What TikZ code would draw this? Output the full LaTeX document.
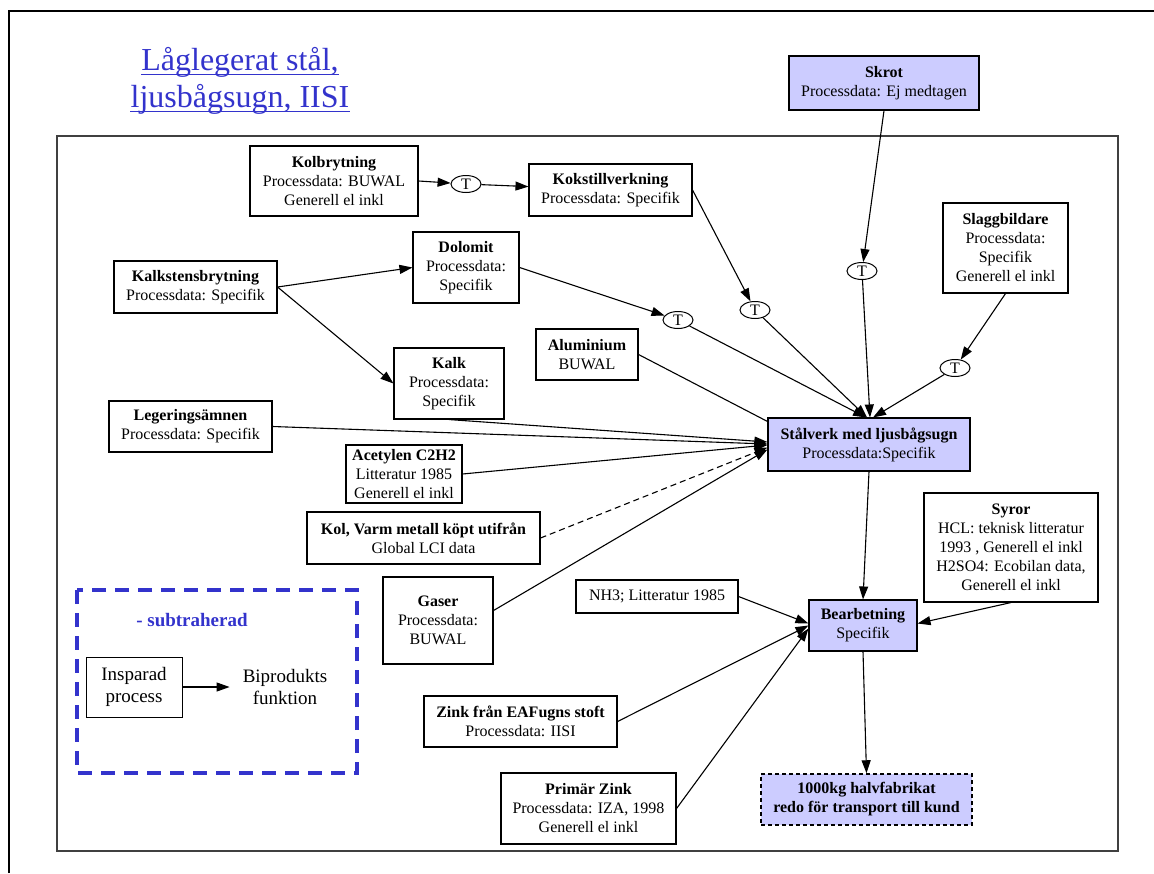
\documentclass[tikz,border=0pt]{standalone}
\usepackage{fontspec}
\setmainfont{Liberation Serif}
\usetikzlibrary{arrows.meta,shapes.geometric}
\definecolor{lav}{HTML}{CCCCFF}
\definecolor{legblue}{HTML}{3333CC}

\begin{document}
\begin{tikzpicture}[x=1pt,y=-1pt,
  box/.style={draw=black, line width=1.1pt, fill=white, align=center, inner sep=0pt,
              font=\fontsize{16}{19}\selectfont},
  hi/.style={box, fill=lav},
  tnode/.style={ellipse, draw=black, line width=1pt, fill=white, minimum width=30pt,
                minimum height=17pt, inner sep=0pt, font=\fontsize{16}{19}\selectfont},
  flow/.style={line width=1.1pt, -{Triangle[length=13pt,width=9pt]}},
  bare/.style={line width=1.1pt},
]
\useasboundingbox (0,0) rectangle (1154,873);

% page frame and process-system frame
\draw[line width=2.5pt] (9,873) -- (9,11) -- (1154,11);
\draw[line width=1.6pt, draw=black!75] (57,136) rectangle (1118,851);

% title
\node[anchor=base, inner sep=0pt, text=legblue, font=\fontsize{32}{37}\selectfont] (title1) at (240,70) {Låglegerat stål,};
\node[anchor=base, inner sep=0pt, text=legblue, font=\fontsize{32}{37}\selectfont] (title2) at (240,107) {ljusbågsugn, IISI};
\draw[legblue, line width=1.6pt] ([yshift=-4.5pt]title1.base west) -- ([yshift=-4.5pt]title1.base east);
\draw[legblue, line width=1.6pt] ([yshift=-4.5pt]title2.base west) -- ([yshift=-4.5pt]title2.base east);

% process boxes
\node[hi, minimum width=190, minimum height=54] (skrot) at (884,83) {\textbf{Skrot}\\Processdata: Ej medtagen};
\node[box, minimum width=168, minimum height=70] (kolb) at (334,181) {\textbf{Kolbrytning}\\Processdata: BUWAL\\Generell el inkl};
\node[box, minimum width=163, minimum height=52] (koks) at (610.5,190) {\textbf{Kokstillverkning}\\Processdata: Specifik};
\node[box, minimum width=125, minimum height=90] (slagg) at (1005.5,248) {\textbf{Slaggbildare}\\Processdata:\\Specifik\\Generell el inkl};
\node[box, minimum width=163, minimum height=52] (kalkst) at (195.5,287) {\textbf{Kalkstensbrytning}\\Processdata: Specifik};
\node[box, minimum width=106, minimum height=71] (dol) at (466,267.5) {\textbf{Dolomit}\\Processdata:\\Specifik};
\node[box, minimum width=102, minimum height=51] (alu) at (587,354.5) {\textbf{Aluminium}\\BUWAL};
\node[box, minimum width=110, minimum height=71] (kalk) at (449,383.5) {\textbf{Kalk}\\Processdata:\\Specifik};
\node[box, minimum width=163, minimum height=51] (leg) at (190.5,426.5) {\textbf{Legeringsämnen}\\Processdata: Specifik};
\node[box, minimum width=116, minimum height=58] (acet) at (404,474) {\textbf{Acetylen C2H2}\\Litteratur 1985\\Generell el inkl};
\node[hi, minimum width=202, minimum height=53] (stal) at (869,444.5) {\textbf{Stålverk med ljusbågsugn}\\Processdata:Specifik};
\node[box, minimum width=233, minimum height=52] (kol) at (423.5,538) {\textbf{Kol, Varm metall köpt utifrån}\\Global LCI data};
\node[box, minimum width=110, minimum height=87] (gas) at (438,620.5) {\textbf{Gaser}\\Processdata:\\BUWAL};
\node[box, minimum width=162, minimum height=33] (nh3) at (657,596.5) {NH3; Litteratur 1985};
\node[box, minimum width=174, minimum height=109] (syror) at (1011,547.5) {\textbf{Syror}\\HCL: teknisk litteratur\\1993 , Generell el inkl\\H2SO4: Ecobilan data,\\Generell el inkl};
\node[hi, minimum width=108, minimum height=51] (bearb) at (863,625.5) {\textbf{Bearbetning}\\Specifik};
\node[box, minimum width=193, minimum height=51] (zink) at (520.5,721.5) {\textbf{Zink från EAFugns stoft}\\Processdata: IISI};
\node[box, minimum width=175, minimum height=71] (prim) at (588.5,808.5) {\textbf{Primär Zink}\\Processdata: IZA, 1998\\Generell el inkl};
\node[hi, dash pattern=on 4pt off 3pt, line width=1.5pt, minimum width=211, minimum height=51,
      font=\fontsize{16}{19}\selectfont\bfseries] (fin) at (866.5,799.5) {1000kg halvfabrikat\\redo för transport till kund};

% transport steps
\node[tnode] (t1) at (466,184) {T};
\node[tnode] (tk) at (755,310) {T};
\node[tnode] (td) at (678,320) {T};
\node[tnode] (ts) at (862,271) {T};
\node[tnode] (tsl) at (955,368) {T};

% flows
\draw[flow] (kolb.east) -- (t1);
\draw[flow] (t1) -- (koks);
\draw[flow] (koks.east) -- (tk);
\draw[flow] (tk) -- ([xshift=-2pt]stal.north);
\draw[flow] (kalkst.east) -- (dol.west);
\draw[flow] (kalkst.east) -- (kalk.west);
\draw[flow] (dol.east) -- (td);
\draw[flow] (td) -- ([xshift=-3pt]stal.north);
\draw[flow] (skrot.south) -- (ts);
\draw[flow] (ts) -- ([xshift=1pt]stal.north);
\draw[flow] (slagg.south) -- (tsl);
\draw[flow] (tsl) -- ([xshift=4pt]stal.north);
\draw[bare] (alu.east) -- ([yshift=-4pt]stal.north west);
\draw[flow] (kalk.south) -- ([yshift=2.5pt]stal.west);
\draw[flow] (leg.east) -- ([yshift=0.5pt]stal.west);
\draw[flow] (acet.east) -- ([yshift=-0.5pt]stal.west);
\draw[flow, dash pattern=on 6pt off 4pt] (kol.east) -- ([yshift=-3pt]stal.west);
\draw[flow] ([yshift=10pt]gas.east) -- ([yshift=-5pt]stal.west);
\draw[flow] (stal.south) -- (bearb.north);
\draw[flow] (syror.south) -- ([yshift=2pt]bearb.east);
\draw[flow] (nh3.east) -- ([yshift=2pt]bearb.west);
\draw[flow] (zink.east) -- (bearb.west);
\draw[flow] (prim.east) -- ([yshift=-3pt]bearb.west);
\draw[flow] (bearb.south) -- (fin.north);

% legend
\draw[legblue, line width=3.5pt, dash pattern=on 14pt off 9pt] (77,590) rectangle (357,773);
\node[text=legblue, font=\fontsize{19}{22}\selectfont\bfseries] (sub) at (192,620) {- subtraherad};
\node[box, line width=0.9pt, font=\fontsize{19}{22}\selectfont, minimum width=96, minimum height=60] (ins) at (134,687) {Insparad\\process};
\node[align=center, font=\fontsize{19}{22}\selectfont, inner xsep=13pt, inner ysep=0pt] (bip) at (285,687) {Biprodukts\\funktion};
\draw[flow] (ins) -- (bip);
\end{tikzpicture}
\end{document}
